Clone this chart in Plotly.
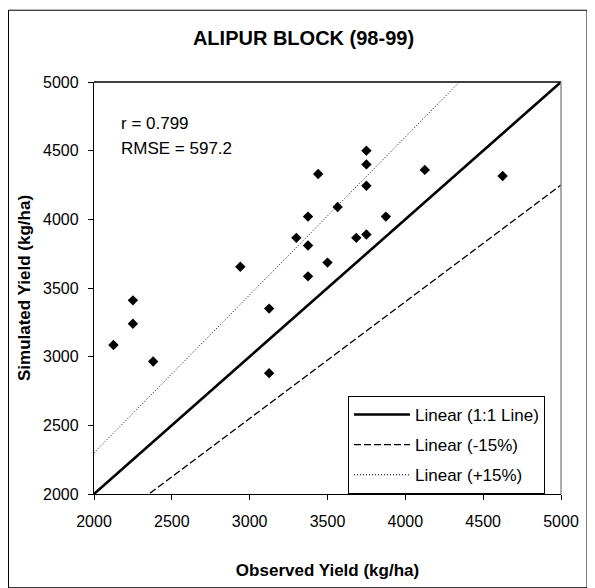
import plotly.graph_objects as go

# Data
observed = [2125, 2250, 2250, 2380, 2940, 3125, 3125, 3300, 3375, 3375, 3375,
            3440, 3500, 3565, 3685, 3750, 3750, 3750, 3750, 3875, 4125, 4625]
simulated = [3085, 3410, 3240, 2965, 3655, 3350, 2880, 3865, 4020, 3810, 3585,
             4330, 3685, 4090, 3865, 4500, 4400, 4245, 3890, 4020, 4360, 4315]

line_x = [2000, 5000]
line_names = ["Linear (1:1 Line)", "Linear (-15%)", "Linear (+15%)"]
line_factors = [1.0, 0.85, 1.15]
line_styles = [dict(color="black", width=2.6, dash="solid"),
               dict(color="black", width=1.4, dash="7px,3px"),
               dict(color="black", width=1.0, dash="1px,2px")]

tick_vals = [2000, 2500, 3000, 3500, 4000, 4500, 5000]
tick_text = ["2000", "2500", "3000", "3500", "4000", "4500", "5000"]

stats_text = ["r = 0.799", "RMSE = 597.2"]

FONT = "Arial, Liberation Sans, sans-serif"

fig = go.Figure()
fig.add_trace(go.Scatter(
    x=observed, y=simulated, mode="markers", showlegend=False,
    marker=dict(symbol="diamond", size=8, color="black"),
    name="Observed vs Simulated"))

for i, (nm, f, st) in enumerate(zip(line_names, line_factors, line_styles)):
    fig.add_trace(go.Scatter(
        x=line_x, y=[f * v for v in line_x], mode="lines", name=nm,
        line=st, legendgroup=f"g{i}"))

# page body has an 8px default margin; figure coordinates = page - 8
OFF = 8
W, H = 587, 580
L, R, T, B = 86, 34, 74, 84
pw = W - L - R
ph = H - T - B

def px_x(p):  # page x -> paper x
    return (p - OFF - L) / pw

def px_y(p):  # page y -> paper y
    return (H - B - (p - OFF)) / ph

axis_common = dict(
    range=[2000, 5000], tickvals=tick_vals, ticktext=tick_text,
    showgrid=False, zeroline=False, showline=True, linecolor="black",
    linewidth=1.3, ticks="outside", ticklen=5, tickcolor="black",
    tickfont=dict(family=FONT, size=16, color="black"),
)

fig.update_layout(
    width=W, height=H,
    margin=dict(l=L, r=R, t=T, b=B),
    paper_bgcolor="white", plot_bgcolor="white",
    font=dict(family=FONT, color="black"),
    title=dict(text="<b>ALIPUR BLOCK (98-99)</b>", x=(303.5 - OFF) / W, xref="container",
               xanchor="center", y=1 - (38 - OFF) / H, yref="container", yanchor="middle",
               font=dict(family=FONT, size=20, color="black")),
    xaxis=dict(**axis_common, mirror=False, ticklabelstandoff=8,
               title=dict(text="<b>Observed Yield (kg/ha)</b>", standoff=34,
                          font=dict(family=FONT, size=17, color="black"))),
    yaxis=dict(**axis_common, ticklabelstandoff=6,
               title=dict(text="<b>Simulated Yield (kg/ha)</b>", standoff=8,
                          font=dict(family=FONT, size=17, color="black"))),
    legend=dict(x=px_x(545), xanchor="right", y=0, yanchor="bottom",
                bordercolor="black", borderwidth=1, bgcolor="white",
                font=dict(family=FONT, size=17, color="black"),
                traceorder="grouped", tracegroupgap=5, itemwidth=56),
    showlegend=True,
)

# statistics text
for txt, yp in zip(stats_text, [125, 150]):
    fig.add_annotation(text=txt, xref="paper", yref="paper",
                       x=px_x(119), y=px_y(yp), xanchor="left", yanchor="middle",
                       showarrow=False, font=dict(family=FONT, size=17, color="black"))

# plot-area top (black) and right (gray) borders
fig.add_shape(type="line", xref="paper", yref="paper", x0=0, x1=1, y0=1, y1=1,
              line=dict(color="black", width=1.3))
fig.add_shape(type="line", xref="paper", yref="paper", x0=1, x1=1, y0=0, y1=1,
              line=dict(color="#808080", width=1.3))
# outer chart frame
fig.add_shape(type="rect", xref="paper", yref="paper",
              x0=px_x(8.5), x1=px_x(587), y0=px_y(600), y1=px_y(8.5),
              line=dict(color="black", width=1), layer="below")

fig.write_html("out.html")
